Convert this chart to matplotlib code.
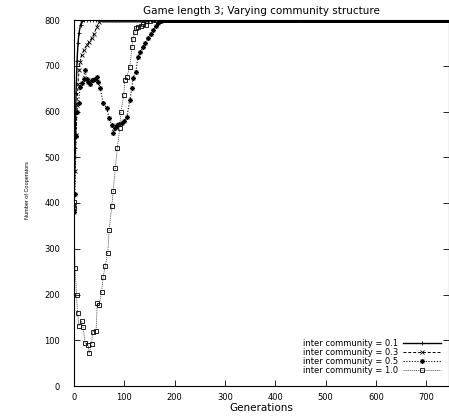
import matplotlib
matplotlib.use("Agg")
import matplotlib.pyplot as plt

# ---------------------------------------------------------------------------
# Data (generations vs number of cooperators)
# ---------------------------------------------------------------------------
TAIL_GENS = list(range(180, 750, 6))

gen_01 = [0, 2, 4, 6, 8, 10, 13, 16, 20, 26, 32, 38, 44, 50, 56, 62, 68, 74,
          80, 86, 92, 98, 104, 110, 116, 122, 128, 134, 140, 146, 152, 158,
          164, 170, 176] + TAIL_GENS
coop_01 = [395, 520, 640, 710, 750, 772, 790, 797] + [800] * 27 + [800] * len(TAIL_GENS)

gen_03 = [0, 2, 4, 6, 8, 10, 12, 15, 20, 25, 30, 35, 40, 45, 50, 55, 61, 67,
          73, 79, 85, 91, 97, 103, 109, 115, 121, 127, 133, 139, 145, 151,
          157, 163, 169, 175] + TAIL_GENS
coop_03 = [390, 470, 549, 615, 660, 690, 708, 723, 735, 745, 752, 760, 770, 785,
           795] + [800] * 21 + [800] * len(TAIL_GENS)

gen_05 = [0, 2, 4, 6, 9, 12, 16, 19, 22, 25, 28, 32, 35, 38, 42, 45, 48, 52,
          58, 65, 70, 75, 78, 82, 85, 90, 95, 100, 105, 111, 115, 117, 123,
          127, 132, 137, 142, 147, 152, 157, 162, 167, 172, 176] + TAIL_GENS
coop_05 = [380, 420, 546, 600, 618, 654, 662, 672, 691, 670, 665, 660, 668,
           669, 672, 676, 665, 651, 618, 607, 585, 570, 553, 565, 570, 573,
           575, 580, 588, 625, 651, 673, 686, 719, 730, 741, 750, 760, 770,
           778, 786, 793, 798, 800] + [800] * len(TAIL_GENS)

gen_10 = [0, 0, 2, 5, 7, 10, 15, 18, 22, 28, 30, 35, 37, 44, 46, 50, 55, 58,
          62, 67, 70, 75, 78, 82, 86, 91, 93, 99, 101, 105, 111, 115, 117,
          121, 123, 127, 134, 137, 143, 150, 160, 170] + TAIL_GENS
coop_10 = [403, 389, 258, 200, 159, 132, 142, 129, 94, 90, 72, 92, 119, 121,
           181, 177, 206, 239, 262, 291, 342, 393, 427, 476, 520, 564, 599,
           636, 669, 676, 698, 742, 758, 773, 783, 785, 787, 791, 789, 797,
           800, 800] + [800] * len(TAIL_GENS)

LABELS = ["inter community = 0.1", "inter community = 0.3",
          "inter community = 0.5", "inter community = 1.0"]

plt.rcParams["font.family"] = ["DejaVu Sans"]

fig = plt.figure(figsize=(4.49, 4.16), dpi=100)
ax = fig.add_axes([74 / 449, 30 / 416, 375 / 449, 366 / 416])

ax.plot(gen_01, coop_01, "-", color="black", lw=1.0, marker="+", ms=3.5,
        mew=0.6, label=LABELS[0])
ax.plot(gen_03, coop_03, color="black", lw=0.7, dashes=(3, 2), marker="x",
        ms=3, mew=0.6, label=LABELS[1])
ax.plot(gen_05, coop_05, color="black", lw=0.8, dashes=(1, 1.5),
        marker=(8, 2, 0), ms=3.5, mew=0.7, label=LABELS[2])
ax.plot(gen_10, coop_10, color="0.35", lw=0.6, dashes=(1.5, 1), marker="s",
        ms=3.3, mew=0.6, mec="black", mfc="none", label=LABELS[3])

ax.set_xlim(0, 745)
ax.set_ylim(0, 800)
ax.set_xticks(range(0, 701, 100))
ax.set_yticks(range(0, 801, 100))
ax.tick_params(direction="in", length=4, width=0.6, labelsize=6,
               right=True, top=False)
ax.tick_params(axis="y", pad=10)
ax.tick_params(axis="x", pad=5)
for side in ("left", "bottom", "right", "top"):
    ax.spines[side].set_linewidth(0.8)

ax.set_title("Game length 3; Varying community structure", fontsize=7.5, pad=4)
ax.set_xlabel("Generations", fontsize=7.5, labelpad=1)
ax.set_ylabel("Number of Cooperators", fontsize=4, family="Liberation Sans")
ax.yaxis.set_label_coords(-0.117, 0.535)

ax.legend(loc="lower right", bbox_to_anchor=(0.995, 0.015), frameon=False,
          markerfirst=False, fontsize=6, labelspacing=0.0,
          handlelength=4.6, handletextpad=0.6, borderpad=0.2)

fig.savefig("out.png", dpi=100)
